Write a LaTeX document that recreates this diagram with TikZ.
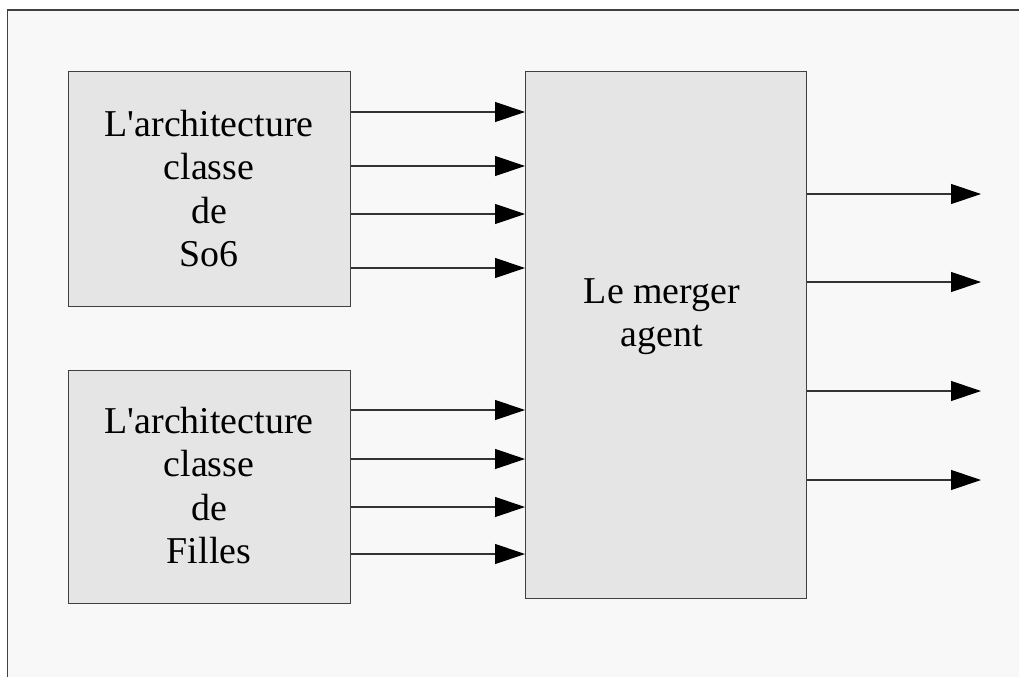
\documentclass[tikz,border=0pt]{standalone}
\usepackage{fontspec}
\setmainfont{Liberation Serif}
\usetikzlibrary{arrows.meta}
\definecolor{bgc}{HTML}{F8F8F8}
\definecolor{boxc}{HTML}{E5E5E5}
\definecolor{edgec}{HTML}{404040}
\tikzset{
  blk/.style={draw=edgec, fill=boxc, line width=1.2pt, inner sep=0pt, anchor=north west},
  txt/.style={font=\fontsize{37.9}{43.5}\selectfont, anchor=base, inner sep=0pt},
  arr/.style={draw=black!80, line width=1.2pt, -{Triangle[length=30pt,width=20pt,color=black]}}
}
\begin{document}
\begin{tikzpicture}[x=1pt,y=-1pt]
\useasboundingbox (0,0) rectangle (1019,677);
\fill[white] (0,0) rectangle (1019,677);
\fill[bgc] (7.5,10) rectangle (1019,677);
\draw[edgec, line width=1.2pt] (7.5,677) -- (7.5,10) -- (1019,10);
% blocks
\node[blk, minimum width=282pt, minimum height=235pt] (b1) at (68,71) {};
\node[blk, minimum width=282pt, minimum height=233pt] (b2) at (68,370) {};
\node[blk, minimum width=281pt, minimum height=527pt] (m) at (525,71) {};
% texts
\node[txt] (t1a) at (209,136) {L\textquotesingle architecture};
\node[txt] (t1b) at (209,179.5) {classe};
\node[txt] (t1c) at (209,223) {de};
\node[txt] (t1d) at (209,266.5) {So6};
\node[txt] (t2a) at (209,433) {L\textquotesingle architecture};
\node[txt] (t2b) at (209,476.5) {classe};
\node[txt] (t2c) at (209,520) {de};
\node[txt] (t2d) at (209,563.5) {Filles};
\node[txt] (tma) at (662,303) {Le merger};
\node[txt] (tmb) at (662,346) {agent};
% input arrows
\foreach \y in {112,166,214,268}{
  \draw[arr] (b1.east |- 0,\y) -- (m.west |- 0,\y);
}
\foreach \y in {410,459,507,554}{
  \draw[arr] (b2.east |- 0,\y) -- (m.west |- 0,\y);
}
% output arrows
\foreach \y [count=\i] in {194,282,391,480}{
  \coordinate (o\i) at (981,\y);
  \draw[arr] (m.east |- o\i) -- (o\i);
}
\end{tikzpicture}
\end{document}
